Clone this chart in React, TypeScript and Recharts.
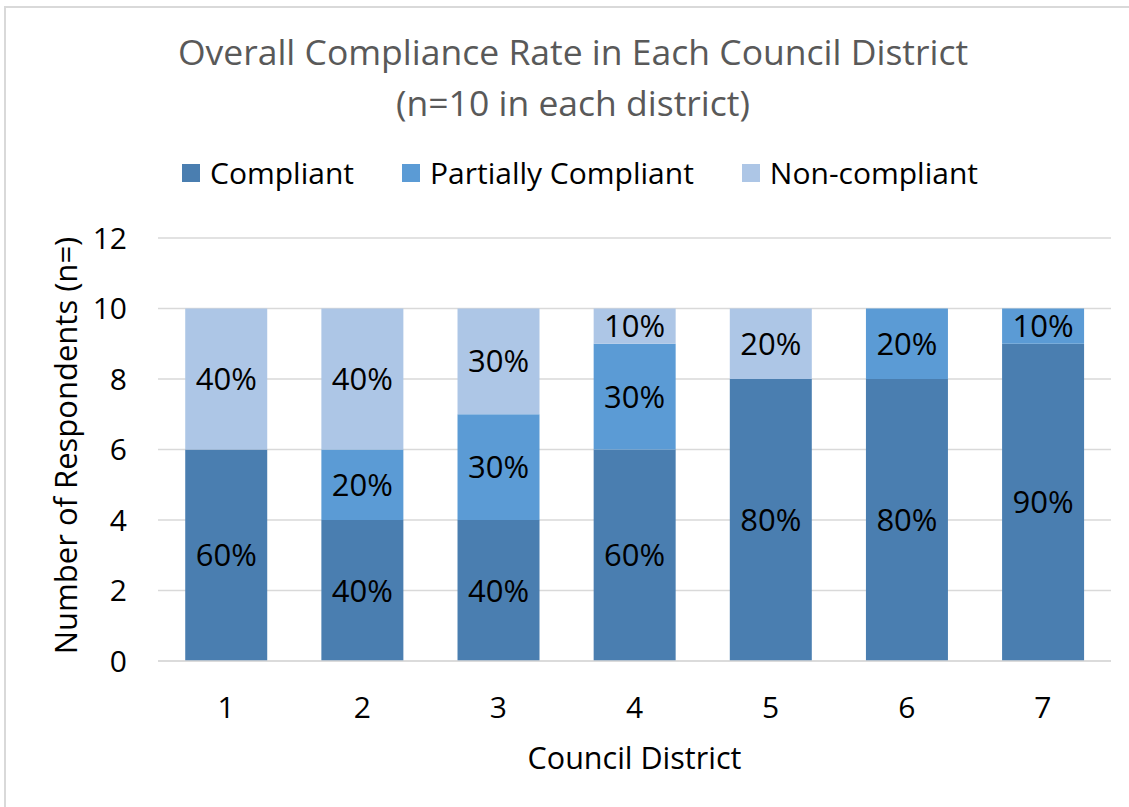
import React from "react";
import { BarChart, Bar, XAxis, YAxis, CartesianGrid, LabelList, Label } from "recharts";

const districts = ["1", "2", "3", "4", "5", "6", "7"];
const compliant = [6, 4, 4, 6, 8, 8, 9];
const partial = [0, 2, 3, 3, 0, 2, 1];
const nonCompliant = [4, 4, 3, 1, 2, 0, 0];
const yTicks = [0, 2, 4, 6, 8, 10, 12];
const seriesNames = ["Compliant", "Partially Compliant", "Non-compliant"];
const seriesColors = ["#4a7eb0", "#5b9bd5", "#adc6e6"];

const data = districts.map((d, i) => ({
  district: d,
  compliant: compliant[i],
  partial: partial[i],
  non: nonCompliant[i],
}));

const FONT = "'Open Sans', 'Noto Sans', sans-serif";

const pct = (v: any) => (v && Number(v) > 0 ? `${Number(v) * 10}%` : "");

const YLabel = (props: any) => {
  const vb = props.viewBox || {};
  const cy = (vb.y || 0) + (vb.height || 0) / 2 - 4;
  return (
    <text
      x={65}
      y={cy}
      transform={`rotate(-90, 65, ${cy})`}
      textAnchor="middle"
      dominantBaseline="central"
      fontFamily={FONT}
      fontSize={31}
      fill="#000"
    >
      Number of Respondents (n=)
    </text>
  );
};

const XLabel = (props: any) => {
  const vb = props.viewBox || {};
  const cx = (vb.x || 0) + (vb.width || 0) / 2;
  return (
    <text
      x={cx}
      y={757}
      textAnchor="middle"
      dominantBaseline="central"
      fontFamily={FONT}
      fontSize={30.5}
      fill="#000"
    >
      Council District
    </text>
  );
};

export default function App() {
  const keys = ["compliant", "partial", "non"];
  return (
    <div style={{ position: "absolute", left: 0, top: 0, width: 1129, height: 807, background: "#fff", overflow: "hidden" }}>
      <div
        style={{
          position: "absolute",
          left: 4,
          top: 6,
          width: 1200,
          height: 900,
          borderLeft: "2px solid #d9d9d9",
          borderTop: "2px solid #d9d9d9",
        }}
      />
      <div
        style={{
          position: "absolute",
          left: 0,
          top: 26,
          width: 1146,
          textAlign: "center",
          fontFamily: FONT,
          fontSize: 35.5,
          lineHeight: "51px",
          color: "#595959",
        }}
      >
        <div>Overall Compliance Rate in Each Council District</div>
        <div>(n=10 in each district)</div>
      </div>
      <div
        style={{
          position: "absolute",
          left: 0,
          top: 151,
          width: 1160,
          display: "flex",
          justifyContent: "center",
          alignItems: "center",
          fontFamily: FONT,
          fontSize: 30,
          color: "#000",
          lineHeight: "44px",
        }}
      >
        {seriesNames.map((n, i) => (
          <div key={n} style={{ display: "flex", alignItems: "center", marginRight: i < 2 ? 48 : 0 }}>
            <div style={{ width: 18, height: 18, background: seriesColors[i], marginRight: 10 }} />
            <span>{n}</span>
          </div>
        ))}
      </div>
      <div style={{ position: "absolute", left: 0, top: 0 }}>
        <BarChart
          width={1129}
          height={807}
          data={data}
          margin={{ top: 238, right: 18, bottom: 46, left: 0 }}
          barCategoryGap="20%"
        >
          <CartesianGrid vertical={false} stroke="#d9d9d9" strokeWidth={1.5} />
          <XAxis
            dataKey="district"
            height={100}
            axisLine={{ stroke: "#d9d9d9", strokeWidth: 1.5 }}
            tickLine={false}
            tickMargin={30}
            tick={{ fontFamily: FONT, fontSize: 30, fill: "#000" }}
          >
            <Label content={<XLabel />} />
          </XAxis>
          <YAxis
            width={158}
            domain={[0, 12]}
            ticks={yTicks}
            interval={0}
            axisLine={false}
            tickLine={false}
            tickMargin={25}
            tick={{ fontFamily: FONT, fontSize: 30, fill: "#000" }}
          >
            <Label content={<YLabel />} />
          </YAxis>
          {keys.map((k, i) => (
            <Bar key={k} dataKey={k} stackId="a" fill={seriesColors[i]} name={seriesNames[i]} isAnimationActive={false}>
              <LabelList
                dataKey={k}
                position="center"
                formatter={pct}
                style={{ fontFamily: FONT, fontSize: 31, fill: "#000" }}
              />
            </Bar>
          ))}
        </BarChart>
      </div>
    </div>
  );
}
